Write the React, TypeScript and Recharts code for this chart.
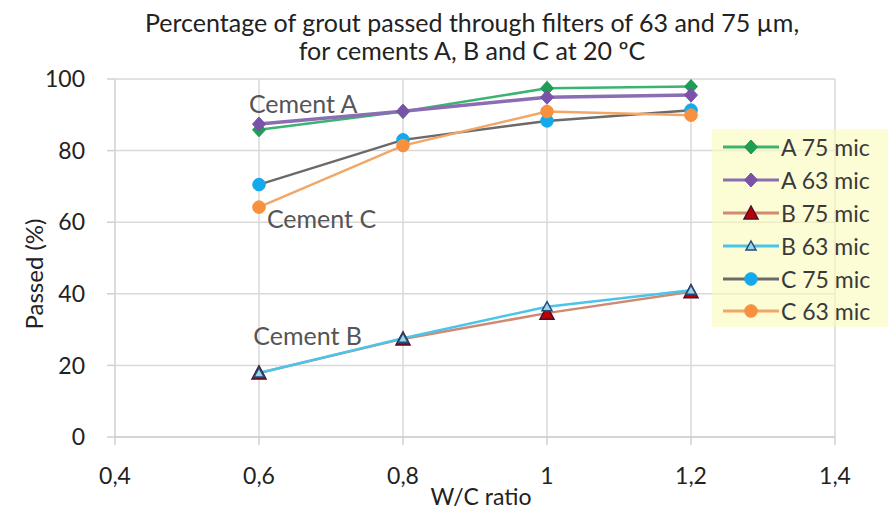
import {
  LineChart,
  Line,
  XAxis,
  YAxis,
  CartesianGrid,
  Legend,
  ReferenceDot,
} from "recharts";

const FONT = "Lato, 'Open Sans', sans-serif";

const WC_RATIO = [0.6, 0.8, 1.0, 1.2];
const A75 = [85.8, 90.9, 97.4, 97.9];
const A63 = [87.4, 91.0, 94.9, 95.5];
const B75 = [17.9, 27.4, 34.6, 40.6];
const B63 = [17.9, 27.6, 36.4, 41.0];
const C75 = [70.5, 83.0, 88.3, 91.3];
const C63 = [64.2, 81.4, 90.9, 89.9];

const X_TICKS = [0.4, 0.6, 0.8, 1.0, 1.2, 1.4];
const Y_TICKS = [0, 20, 40, 60, 80, 100];

const data = WC_RATIO.map((x, i) => ({
  x,
  a75: A75[i],
  a63: A63[i],
  b75: B75[i],
  b63: B63[i],
  c75: C75[i],
  c63: C63[i],
}));

const SERIES = [
  { key: "a75", name: "A 75 mic", line: "#3cb371", marker: "diamond", fill: "#1f9d55", stroke: "#1f9d55" },
  { key: "a63", name: "A 63 mic", line: "#8a6db3", marker: "diamond", fill: "#7a52a9", stroke: "#7a52a9" },
  { key: "b75", name: "B 75 mic", line: "#cf8a70", marker: "triangle", fill: "#c00000", stroke: "#4a1030" },
  { key: "b63", name: "B 63 mic", line: "#4cc4ea", marker: "triangleSmall", fill: "#9fd3ea", stroke: "#1f4e79" },
  { key: "c75", name: "C 75 mic", line: "#6a6a6a", marker: "circle", fill: "#13a9ec", stroke: "#13a9ec" },
  { key: "c63", name: "C 63 mic", line: "#f2a766", marker: "circle", fill: "#f7913f", stroke: "#f7913f" },
];

// annotation labels, in data coordinates
const NOTES = [
  { text: "Cement A", x: 0.586, y: 93.3 },
  { text: "Cement C", x: 0.611, y: 61.2 },
  { text: "Cement B", x: 0.592, y: 28.5 },
];

function marker(type: string, fill: string, stroke: string, cx: number, cy: number, key?: any) {
  if (type === "diamond") {
    return (
      <path key={key} d={`M${cx},${cy - 7}L${cx + 6.5},${cy}L${cx},${cy + 7}L${cx - 6.5},${cy}Z`} fill={fill} stroke={stroke} strokeWidth={1} />
    );
  }
  if (type === "triangle") {
    return (
      <path key={key} d={`M${cx},${cy - 7}L${cx + 7},${cy + 6}L${cx - 7},${cy + 6}Z`} fill={fill} stroke={stroke} strokeWidth={1.5} />
    );
  }
  if (type === "triangleSmall") {
    return (
      <path key={key} d={`M${cx},${cy - 5}L${cx + 5},${cy + 4}L${cx - 5},${cy + 4}Z`} fill={fill} stroke={stroke} strokeWidth={1.5} />
    );
  }
  return <circle key={key} cx={cx} cy={cy} r={6.3} fill={fill} stroke={stroke} strokeWidth={1} />;
}

function LegendBox() {
  return (
    <div
      style={{
        background: "rgba(250, 250, 185, 0.6)",
        width: "100%",
        height: "100%",
        paddingTop: 2,
        boxSizing: "border-box",
        fontFamily: FONT,
      }}
    >
      {SERIES.map((s) => (
        <div key={s.key} style={{ display: "flex", alignItems: "center", height: 32.8, paddingLeft: 11 }}>
          <svg width={56} height={20}>
            <line x1={0} y1={10} x2={56} y2={10} stroke={s.line} strokeWidth={3} />
            {marker(s.marker, s.fill, s.stroke, 28, 10)}
          </svg>
          <span style={{ marginLeft: 2, fontSize: 23, color: "#3a3a3a" }}>{s.name}</span>
        </div>
      ))}
    </div>
  );
}

export default function App() {
  return (
    <div style={{ position: "absolute", left: 0, top: 0, width: 888, height: 509, background: "#fff" }}>
      <div
        style={{
          position: "absolute",
          left: 0,
          width: 944,
          top: 8,
          textAlign: "center",
          fontFamily: FONT,
          fontSize: 25,
          lineHeight: "28px",
          color: "#222",
          zIndex: 1,
        }}
      >
        Percentage of grout passed through filters of 63 and 75 µm,
        <br />
        for cements A, B and C at 20 ºC
      </div>
      <LineChart width={888} height={509} data={data} margin={{ top: 79, right: 53, bottom: 0, left: 0 }}>
        <CartesianGrid stroke="#d9d9d9" strokeWidth={1.5} />
        <XAxis
          dataKey="x"
          type="number"
          domain={[0.4, 1.4]}
          ticks={X_TICKS}
          height={72}
          tickSize={8}
          tickMargin={23}
          tickLine={{ stroke: "#d0d0d0", strokeWidth: 1.5 }}
          axisLine={{ stroke: "#cfcfcf", strokeWidth: 1.5 }}
          tick={{ fontSize: 23, fill: "#222", fontFamily: FONT }}
          tickFormatter={(v) => String(v).replace(".", ",")}
          label={{
            value: "W/C ratio",
            position: "insideBottom",
            offset: 4,
            dx: 6,
            style: { fontSize: 23, fill: "#222", fontFamily: FONT },
          }}
        />
        <YAxis
          type="number"
          domain={[0, 100]}
          ticks={Y_TICKS}
          width={115}
          tickSize={8}
          tickMargin={22}
          tickLine={{ stroke: "#d0d0d0", strokeWidth: 1.5 }}
          axisLine={{ stroke: "#d9d9d9", strokeWidth: 1.5 }}
          tick={{ fontSize: 23, fill: "#222", fontFamily: FONT }}
          label={{
            content: (p: any) => {
              const vb = p.viewBox || {};
              const x = (vb.x || 0) + 33;
              const y = (vb.y || 0) + (vb.height || 0) / 2 + 16;
              return (
                <text
                  x={x}
                  y={y}
                  transform={`rotate(-90, ${x}, ${y})`}
                  textAnchor="middle"
                  dominantBaseline="central"
                  style={{ fontSize: 24, fill: "#222", fontFamily: FONT }}
                >
                  Passed (%)
                </text>
              );
            },
          }}
        />
        <Legend
          layout="vertical"
          align="center"
          verticalAlign="middle"
          content={() => <LegendBox />}
          wrapperStyle={{ position: "absolute", left: 712, top: 129, width: 176, height: 198 }}
        />
        {SERIES.map((s) => (
          <Line
            key={s.key}
            dataKey={s.key}
            name={s.name}
            type="linear"
            stroke={s.line}
            strokeWidth={s.key === "a63" ? 3.5 : 2.5}
            dot={(p: any) => marker(s.marker, s.fill, s.stroke, p.cx, p.cy, p.index)}
            activeDot={false}
            isAnimationActive={false}
          />
        ))}
        {NOTES.map((n) => (
          <ReferenceDot
            key={n.text}
            x={n.x}
            y={n.y}
            r={0}
            fill="none"
            stroke="none"
            label={{
              content: (p: any) => {
                const vb = p.viewBox || {};
                return (
                  <text
                    x={vb.x}
                    y={vb.y}
                    dominantBaseline="central"
                    style={{ fontSize: 25, fill: "#555", fontFamily: FONT }}
                  >
                    {n.text}
                  </text>
                );
              },
            }}
          />
        ))}
      </LineChart>
    </div>
  );
}
